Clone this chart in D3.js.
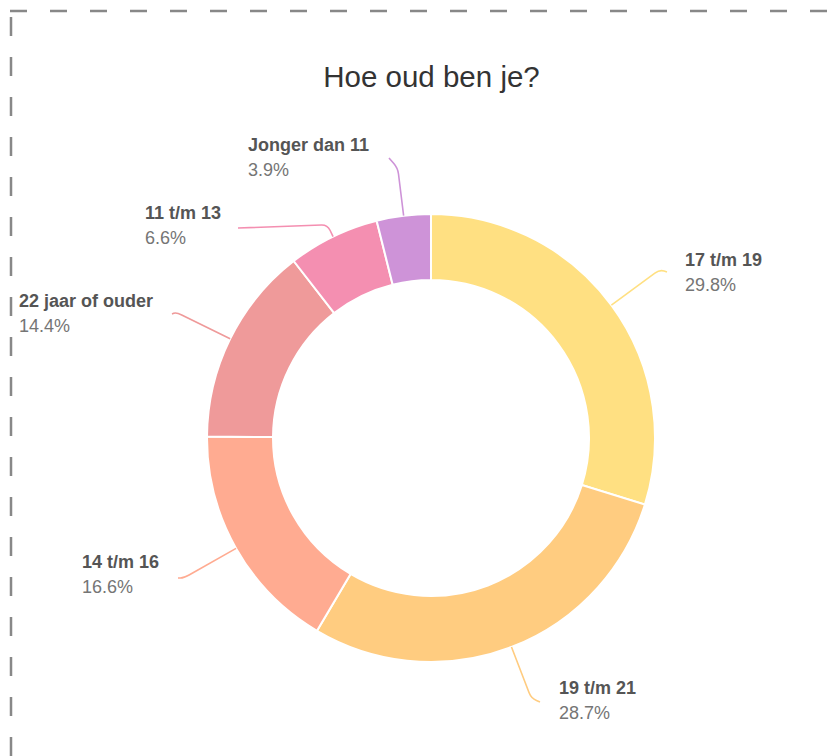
<!DOCTYPE html>
<html><head><meta charset="utf-8">
<script src="https://cdn.jsdelivr.net/npm/d3@7"></script>
<style>body{margin:0;background:#fff} svg{display:block}</style>
</head><body><svg id="c" width="833" height="756"></svg>
<script>
// ---- data ----
const categories = ["17 t/m 19", "19 t/m 21", "14 t/m 16", "22 jaar of ouder", "11 t/m 13", "Jonger dan 11"];
const values = [29.8, 28.7, 16.6, 14.4, 6.6, 3.9];
const pctLabels = ["29.8%", "28.7%", "16.6%", "14.4%", "6.6%", "3.9%"];
const chartTitle = "Hoe oud ben je?";

// ---- style / layout ----
const colors = ["#FFE082", "#FFCC80", "#FFAB91", "#EF9A9A", "#F48FB1", "#CE93D8"];
const labelPos = [[685, 266], [559, 694], [82, 568], [19, 307], [145, 219], [248, 151]];
const leaderElbow = [60, 55, 60, 60, 13, 48];
const leaderEnd = [[667, 272], [540, 702], [178, 578], [172, 314], [238, 228], [389, 158]];

const W = 833, H = 756, cx = 431, cy = 438, R = 224, r = 158;
const FONT = "'Liberation Sans', Arial, Helvetica, sans-serif";

const svg = d3.select("#c");

// dashed frame
svg.append("line").attr("x1", 10).attr("x2", W).attr("y1", 11).attr("y2", 11)
  .attr("stroke", "#888").attr("stroke-width", 2.5).attr("stroke-dasharray", "17 23");
svg.append("line").attr("x1", 11).attr("x2", 11).attr("y1", 17).attr("y2", H)
  .attr("stroke", "#888").attr("stroke-width", 2.5).attr("stroke-dasharray", "19 21");

// title
svg.append("text").attr("x", cx + 0.5).attr("y", 87).attr("text-anchor", "middle")
  .attr("font-family", FONT).attr("font-size", 29.5).attr("fill", "#333").text(chartTitle);

const data = categories.map((c, i) => ({ c, v: values[i], i }));
const pie = d3.pie().sort(null).value(d => d.v).startAngle(0).endAngle(2 * Math.PI);
const arcs = pie(data);
const arc = d3.arc().innerRadius(r).outerRadius(R);

const g = svg.append("g").attr("transform", `translate(${cx},${cy})`);
g.selectAll("path.slice").data(arcs).join("path").attr("class", "slice")
  .attr("d", arc).attr("fill", d => colors[d.data.i])
  .attr("stroke", "#fff").attr("stroke-width", 2);

// leaders
function pt(angle, rad) { return [cx + rad * Math.sin(angle), cy - rad * Math.cos(angle)]; }
arcs.forEach(d => {
  const i = d.data.i;
  const a = (d.startAngle + d.endAngle) / 2;
  const S = pt(a, R);
  const E = pt(a, R + leaderElbow[i]);
  const A = pt(a, R + leaderElbow[i] - 6);
  const End = leaderEnd[i];
  const dx = End[0] - E[0], dy = End[1] - E[1];
  const len = Math.hypot(dx, dy) || 1;
  const k = Math.min(6, len * 0.6);
  const B = [E[0] + dx / len * k, E[1] + dy / len * k];
  const p = d3.path();
  p.moveTo(S[0], S[1]); p.lineTo(A[0], A[1]);
  p.quadraticCurveTo(E[0], E[1], B[0], B[1]);
  p.lineTo(End[0], End[1]);
  svg.append("path").attr("d", p.toString()).attr("fill", "none")
    .attr("stroke", colors[i]).attr("stroke-width", 1.6);
});

// labels
data.forEach(d => {
  const [x, y] = labelPos[d.i];
  svg.append("text").attr("x", x).attr("y", y).attr("font-family", FONT)
    .attr("font-size", 18).attr("font-weight", "bold").attr("fill", "#555").text(d.c);
  svg.append("text").attr("x", x).attr("y", y + 25).attr("font-family", FONT)
    .attr("font-size", 18).attr("fill", "#757575").text(pctLabels[d.i]);
});
</script></body></html>
